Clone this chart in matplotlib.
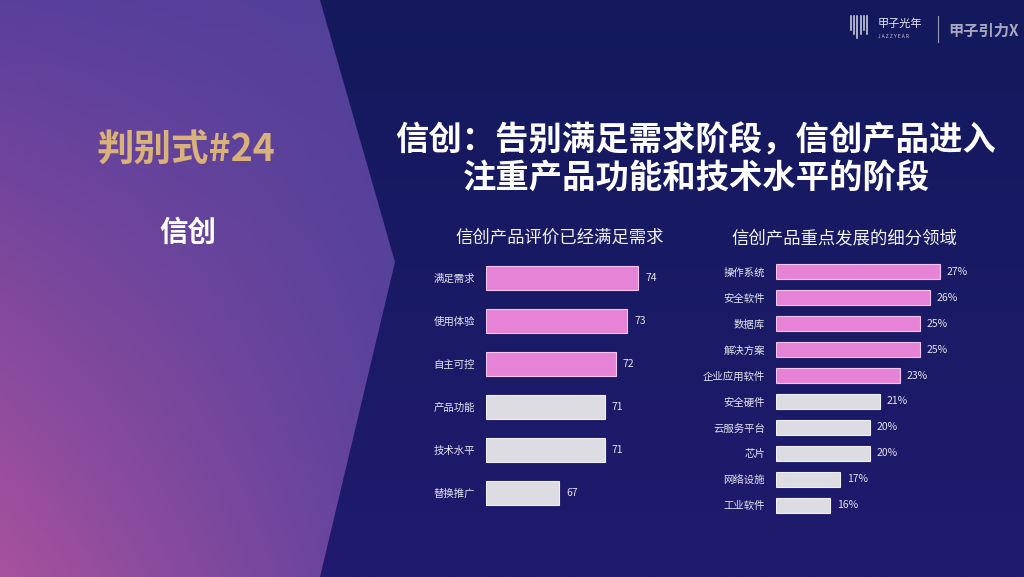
import numpy as np
import matplotlib
matplotlib.use("Agg")
import matplotlib.pyplot as plt
from matplotlib.patches import Polygon

plt.rcParams['font.family'] = ['Noto Sans CJK SC', 'DejaVu Sans']

# Data
left_title = "信创产品评价已经满足需求"
left_cats = ["满足需求", "使用体验", "自主可控", "产品功能", "技术水平", "替换推广"]
left_vals = [74, 73, 72, 71, 71, 67]
left_hi = [True, True, True, False, False, False]

right_title = "信创产品重点发展的细分领域"
right_cats = ["操作系统", "安全软件", "数据库", "解决方案", "企业应用软件",
              "安全硬件", "云服务平台", "芯片", "网络设施", "工业软件"]
right_vals = [27, 26, 25, 25, 23, 21, 20, 20, 17, 16]
right_hi = [True, True, True, True, True, False, False, False, False, False]

main_title = "信创：告别满足需求阶段，信创产品进入\n注重产品功能和技术水平的阶段"

PINK = "#e683d6"
GREY = "#dcdce2"
W, H = 1024, 577

fig = plt.figure(figsize=(W / 100, H / 100), dpi=100)

# Background in pixel coordinates
bg = fig.add_axes([0, 0, 1, 1])
bg.set_xlim(0, W)
bg.set_ylim(H, 0)
bg.axis("off")

# right side navy gradient
gy = np.linspace(0, 1, 200)[:, None] * np.ones((1, 2))
navy = np.zeros((200, 2, 3))
top_c = np.array([0x13, 0x19, 0x5c]) / 255
bot_c = np.array([0x20, 0x1b, 0x6e]) / 255
navy[:] = top_c + (bot_c - top_c) * gy[..., None]
bg.imshow(navy, extent=[0, W, H, 0], aspect="auto", zorder=0)

# left chevron panel with purple/pink gradient
xx, yy = np.meshgrid(np.linspace(0, 1, 200), np.linspace(0, 1, 200))
c_tl = np.array([0x5a, 0x3f, 0x9c]) / 255
c_tr = np.array([0x50, 0x40, 0x98]) / 255
c_bl = np.array([0xa8, 0x52, 0x9e]) / 255
c_br = np.array([0x5e, 0x42, 0x9e]) / 255
grad = (c_tl * ((1 - xx) * (1 - yy))[..., None] + c_tr * (xx * (1 - yy))[..., None]
        + c_bl * ((1 - xx) * yy)[..., None] + c_br * (xx * yy)[..., None])
im = bg.imshow(grad, extent=[0, 400, H, 0], aspect="auto", zorder=1)
panel = Polygon([(0, 0), (320, 0), (395, 262), (320, H), (0, H)], closed=True,
                facecolor="none", edgecolor="none", transform=bg.transData)
bg.add_patch(panel)
im.set_clip_path(panel)

# Left panel texts
bg.text(186, 150, "判别式#24", color="#d9b17a", fontsize=27, fontweight="bold",
        ha="center", va="center", zorder=3)
bg.text(188, 233, "信创", color="white", fontsize=20.5, fontweight="bold",
        ha="center", va="center", zorder=3)

# Main title
bg.text(696, 160, main_title, color="white", fontsize=24, fontweight="bold",
        ha="center", va="center", linespacing=1.2, zorder=3)

# Logo top right
for i, h in enumerate([14, 18, 22, 18, 14, 18]):
    bg.plot([851 + i * 3.2, 851 + i * 3.2], [16, 16 + h], color="#d8d8e6", lw=1.1, zorder=3)
bg.text(878, 24, "甲子光年", color="#e8e8f2", fontsize=8, ha="left", va="center", zorder=3)
bg.text(878, 37, "J A Z Z Y E A R", color="#c8c8d8", fontsize=3.5, ha="left", va="center", zorder=3)
bg.plot([938, 938], [16, 42], color="#9a9ab8", lw=0.8, zorder=3)
bg.text(948, 31, "甲子引力X", color="#a8a8c0", fontsize=11, fontweight="bold",
        ha="left", va="center", zorder=3)


def px_axes(left, right, top, bottom):
    return fig.add_axes([left / W, 1 - bottom / H, (right - left) / W, (bottom - top) / H])


def bar_chart(ax, cats, vals, hi, x0, x1, fmt, title, title_x, title_y):
    colors = [PINK if h else GREY for h in hi]
    edges = ["#f4c4ee" if h else "#f0f0f4" for h in hi]
    y = np.arange(len(cats))
    bars = ax.barh(y, [v - x0 for v in vals], left=x0, height=0.58,
                   color=colors, edgecolor=edges, linewidth=0.8)
    ax.set_xlim(x0, x1)
    ax.set_ylim(len(cats) - 0.5, -0.5)
    ax.set_yticks(y, cats)
    ax.tick_params(axis="y", length=0, pad=8, labelsize=7.5, labelcolor="#e4e4f0")
    ax.set_xticks([])
    for s in ax.spines.values():
        s.set_visible(False)
    ax.patch.set_alpha(0)
    ax.bar_label(bars, labels=[fmt.format(v) for v in vals], padding=5,
                 color="#e4e4f0", fontsize=7.5)
    bg.text(title_x, title_y, title, color="#f2f2f8", fontsize=12.5,
            ha="center", va="center", zorder=3)


axl = px_axes(486, 661, 256.5, 514.5)
bar_chart(axl, left_cats, left_vals, left_hi, 60.5, 76, "{}", left_title, 560, 238)

axr = px_axes(776, 970, 259, 518)
bar_chart(axr, right_cats, right_vals, right_hi, 10.6, 30, "{}%", right_title, 844, 238)

fig.savefig("out.png", dpi=100)
